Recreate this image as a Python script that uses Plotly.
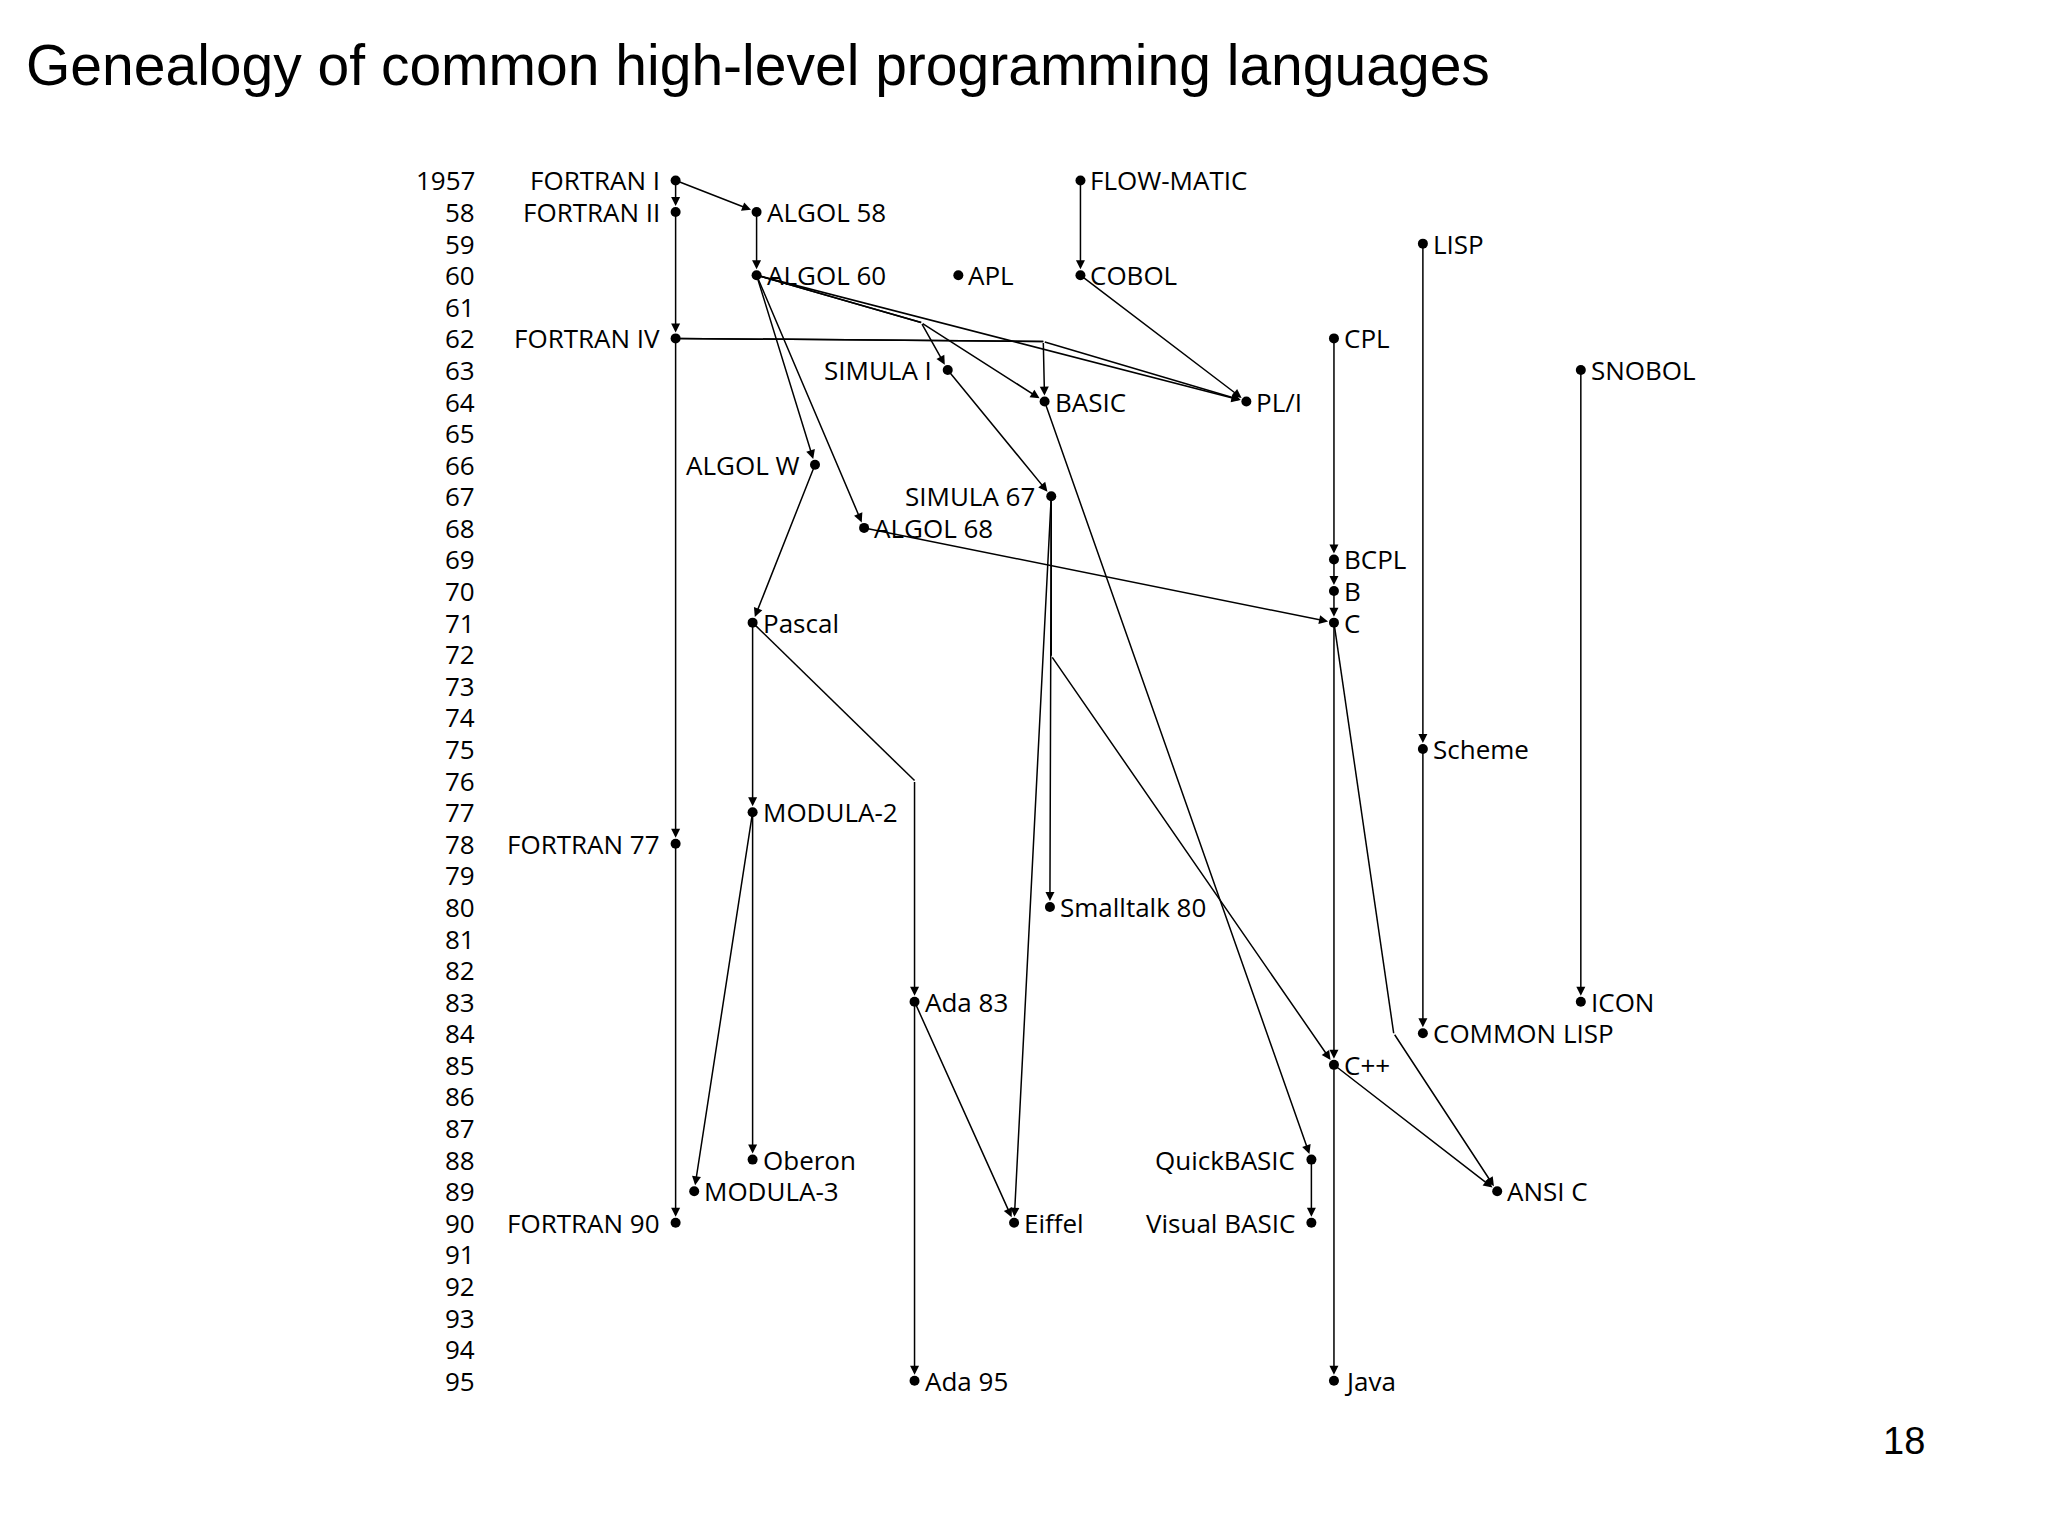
import plotly.graph_objects as go

year_ticks = list(range(1957, 1996))
year_labels = ["1957"] + [str(y % 100) for y in range(1958, 1996)]

names = ["FORTRAN I","FORTRAN II","ALGOL 58","ALGOL 60","APL","FLOW-MATIC","COBOL","LISP",
         "FORTRAN IV","CPL","SNOBOL","SIMULA I","BASIC","PL/I","ALGOL W","SIMULA 67","ALGOL 68",
         "BCPL","B","C","Pascal","Scheme","MODULA-2","FORTRAN 77","Smalltalk 80","Ada 83","ICON",
         "COMMON LISP","C++","QuickBASIC","Oberon","MODULA-3","ANSI C","FORTRAN 90","Eiffel",
         "Visual BASIC","Ada 95","Java"]
years = [1957,1958,1958,1960,1960,1957,1960,1959,1962,1962,1963,1963,1964,1964,1966,1967,1968,
         1969,1970,1971,1971,1975,1977,1978,1980,1983,1983,1984,1985,1988,1988,1989,1989,1990,1990,
         1990,1995,1995]
columns = [503,503,564,564,716,808,808,1066,503,999,1185,708,781,933,608,786,645,
           999,999,999,561,1066,561,503,785,683,1185,1066,999,982,561,517,1122,503,758,982,683,999]
left_labels = {"FORTRAN I","FORTRAN II","FORTRAN IV","SIMULA I","ALGOL W","SIMULA 67",
               "FORTRAN 77","QuickBASIC","FORTRAN 90","Visual BASIC"}

# edges: (source, target, list of intermediate waypoints (x, year))
edges = [
    ("FORTRAN I","FORTRAN II",[]),("FORTRAN I","ALGOL 58",[]),("FORTRAN II","FORTRAN IV",[]),
    ("ALGOL 58","ALGOL 60",[]),("FLOW-MATIC","COBOL",[]),("COBOL","PL/I",[]),
    ("FORTRAN IV","PL/I",[(780,1962.1)]),("ALGOL 60","PL/I",[]),
    ("ALGOL 60","SIMULA I",[(688,1961.5)]),("ALGOL 60","BASIC",[(688,1961.5)]),
    ("FORTRAN IV","BASIC",[(780,1962.1)]),
    ("ALGOL 60","ALGOL W",[]),("ALGOL 60","ALGOL 68",[]),("SIMULA I","SIMULA 67",[]),
    ("ALGOL W","Pascal",[]),("ALGOL 68","C",[]),("CPL","BCPL",[]),("BCPL","B",[]),("B","C",[]),
    ("SIMULA 67","Smalltalk 80",[]),("SIMULA 67","Eiffel",[]),("SIMULA 67","C++",[(786,1972.05)]),
    ("BASIC","QuickBASIC",[]),("QuickBASIC","Visual BASIC",[]),("Pascal","MODULA-2",[]),
    ("Pascal","Ada 83",[(683,1976.0)]),("MODULA-2","Oberon",[]),("MODULA-2","MODULA-3",[]),
    ("FORTRAN IV","FORTRAN 77",[]),("FORTRAN 77","FORTRAN 90",[]),("Ada 83","Ada 95",[]),
    ("Ada 83","Eiffel",[]),("C","C++",[]),("C","ANSI C",[(1044,1984.0)]),("C++","ANSI C",[]),
    ("C++","Java",[]),("LISP","Scheme",[]),("Scheme","COMMON LISP",[]),("SNOBOL","ICON",[]),
]

pos = {n: (x, y) for n, x, y in zip(names, columns, years)}
fig = go.Figure()
annotations = []
FONT = "Open Sans, Liberation Sans, sans-serif"

for s, t, via in edges:
    pts = [pos[s]] + via
    if via:
        fig.add_trace(go.Scatter(x=[p[0] for p in pts], y=[p[1] for p in pts], mode="lines",
                                 line=dict(color="black", width=1.5), hoverinfo="skip", showlegend=False))
    a = pts[-1]; b = pos[t]
    annotations.append(dict(x=b[0], y=b[1], ax=a[0], ay=a[1], xref="x", yref="y", axref="x", ayref="y",
                            showarrow=True, arrowhead=2, arrowsize=1.2, arrowwidth=1.5, arrowcolor="black",
                            standoff=6, text=""))

fig.add_trace(go.Scatter(x=columns, y=years, mode="markers", marker=dict(color="black", size=10),
                         hoverinfo="text", text=names, showlegend=False))

for n, x, y in zip(names, columns, years):
    left = n in left_labels
    annotations.append(dict(x=x, y=y, xref="x", yref="y", text=n, showarrow=False,
                            xanchor="right" if left else "left", xshift=-14 if left else 8,
                            font=dict(size=26, color="black", family=FONT)))

for y, lab in zip(year_ticks, year_labels):
    annotations.append(dict(x=353, y=y, xref="x", yref="y", text=lab, showarrow=False,
                            xanchor="right", font=dict(size=26, color="black", family=FONT)))

annotations.append(dict(x=0.008, y=0.985, xref="paper", yref="paper", text="Genealogy of common high-level programming languages",
                        showarrow=False, xanchor="left", yanchor="top",
                        font=dict(size=57, color="black", family="Liberation Sans, Arial, sans-serif")))
annotations.append(dict(x=0.937, y=0.052, xref="paper", yref="paper", text="18", showarrow=False,
                        xanchor="right", yanchor="bottom",
                        font=dict(size=38, color="black", family="Liberation Sans, Arial, sans-serif")))

fig.update_layout(width=2048, height=1536, margin=dict(l=0, r=0, t=0, b=0),
                  paper_bgcolor="white", plot_bgcolor="white", annotations=annotations,
                  xaxis=dict(range=[0, 1543], visible=False, fixedrange=True),
                  yaxis=dict(range=[2000.17, 1951.54], visible=False, fixedrange=True))
fig.write_html("out.html")
